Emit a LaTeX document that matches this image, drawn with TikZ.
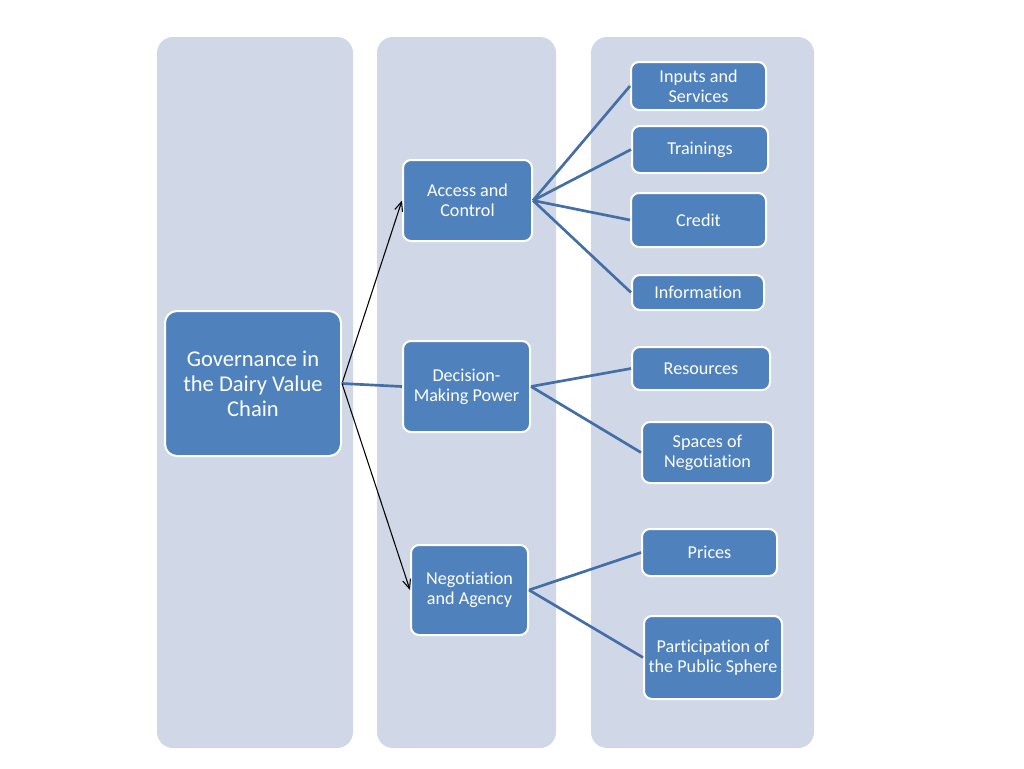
\documentclass[tikz,border=0pt]{standalone}
\usepackage{fontspec}
\setmainfont{Carlito}[Ligatures=NoCommon]
\usetikzlibrary{calc, positioning, arrows.meta}
\def\px{0.75pt}
\def\cornerradius{6pt}
\def\rootradius{9pt}
\def\panelradius{12pt}
\def\paneltop{37}
\def\panelbottom{748}
\definecolor{panelfillcolor}{RGB}{208,216,232}
\definecolor{boxfillcolor}{RGB}{79,129,189}
\definecolor{branchdrawcolor}{RGB}{68,110,166}
\tikzset{
	% panels
	panel/.style={
		fill=panelfillcolor,
		rounded corners=\panelradius,
	},
	% boxes
	box/.style={
		draw=white,
		line width=1.5pt,
		fill=boxfillcolor,
		text=white,
		align=center,
		inner sep=1pt,
		rounded corners=\cornerradius,
		shape=rectangle,
		font=\fontsize{13.6}{15}\selectfont,
	},
	root_box/.style={
		box,
		rounded corners=\rootradius,
		font=\fontsize{16.9}{18.8}\selectfont,
	},
	% connections
	branch/.style={
		draw=branchdrawcolor,
		line width=2pt,
	},
	pointer/.style={
		black,
		line width=0.8pt,
		-{Straight Barb[length=7pt, width=6pt]},
	}
}
\begin{document}
\begin{tikzpicture}[x=\px, y=-\px]
		\useasboundingbox (0,0) rectangle (1024,768);

		% Panels
		\foreach \xl/\xr in {157/353, 377/556, 591/814} {
			\fill[panel] (\xl,\paneltop) rectangle (\xr,\panelbottom);
		}

		% Root
		\node[
			root_box,
			minimum width=176*\px,
			minimum height=145*\px,
		] (governance) at (253,383.5) {Governance in\\the Dairy Value\\Chain};

		% Middle column
		\node[
			box,
			minimum width=129*\px,
			minimum height=81*\px,
		] (access_control) at (467.5,200.5) {Access and\\Control};
		\node[
			box,
			minimum width=127*\px,
			minimum height=91*\px,
		] (decision_power) at (466.5,386.5) {Decision-\\Making Power};
		\node[
			box,
			minimum width=117*\px,
			minimum height=90*\px,
		] (negotiation_agency) at (469.5,590) {Negotiation\\and Agency};

		% Right column
		\node[box, minimum width=135*\px, minimum height=48*\px] (inputs) at (698.5,86) {Inputs and\\Services};
		\node[box, minimum width=136*\px, minimum height=47*\px] (trainings) at (700,149.5) {Trainings};
		\node[box, minimum width=135*\px, minimum height=54*\px] (credit) at (698.5,220) {Credit};
		\node[box, minimum width=132*\px, minimum height=35*\px] (information) at (698,292.5) {Information};
		\node[box, minimum width=138*\px, minimum height=43*\px] (resources) at (701,368.5) {Resources};
		\node[box, minimum width=131*\px, minimum height=61*\px] (spaces) at (707.5,452.5) {Spaces of\\Negotiation};
		\node[box, minimum width=135*\px, minimum height=47*\px] (prices) at (709.5,552.5) {Prices};
		\node[box, minimum width=138*\px, minimum height=83*\px] (participation) at (713,657.5) {Participation of\\the Public Sphere};

		% Root connections
		\draw[pointer] (governance.east) -- (access_control.west);
		\draw[branch] (governance.east) -- (decision_power.west);
		\draw[pointer] (governance.east) -- (negotiation_agency.west);

		% Branches
		\foreach \leaf in {inputs, trainings, credit, information} {
			\draw[branch] (access_control.east) -- (\leaf.west);
		}
		\foreach \leaf in {resources, spaces} {
			\draw[branch] (decision_power.east) -- (\leaf.west);
		}
		\foreach \leaf in {prices, participation} {
			\draw[branch] (negotiation_agency.east) -- (\leaf.west);
		}
	\end{tikzpicture}
\end{document}
